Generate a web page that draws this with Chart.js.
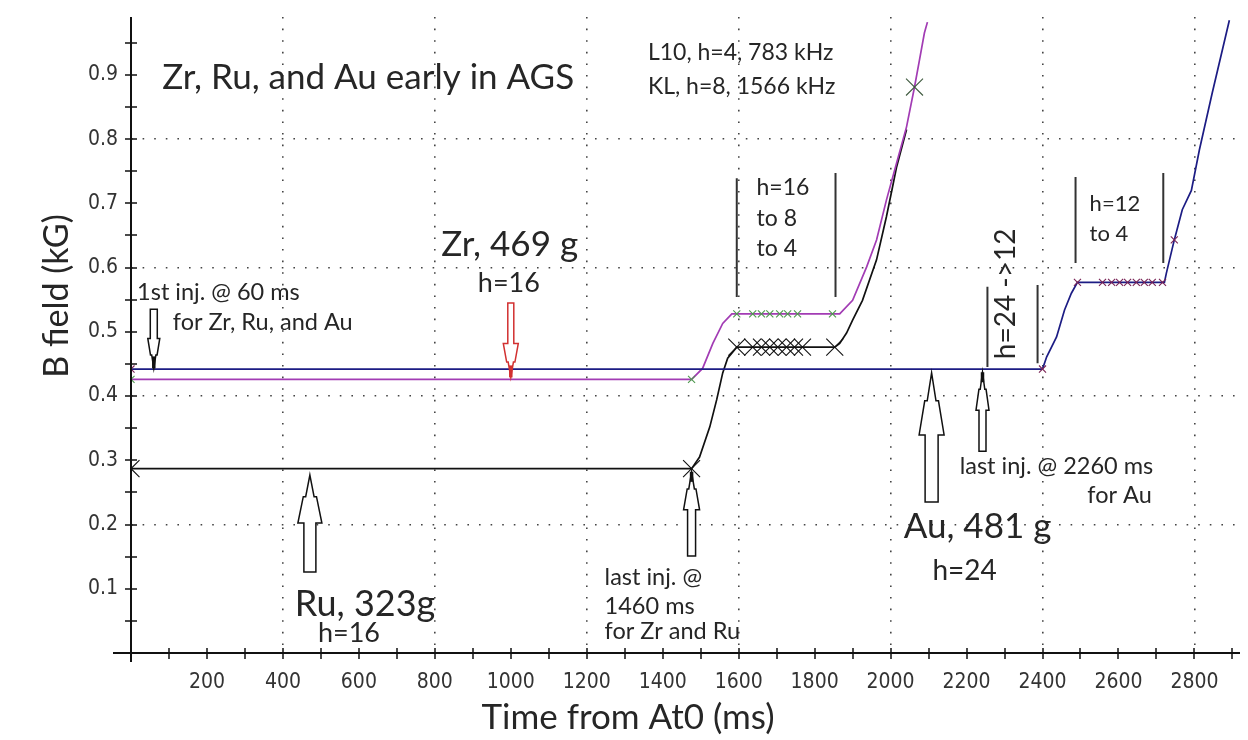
<!DOCTYPE html>
<html><head><meta charset="utf-8">
<script src="https://cdn.jsdelivr.net/npm/chart.js@4/dist/chart.umd.min.js"></script>
<style>html,body{margin:0;padding:0;background:#fff}#wrap{width:1248px;height:740px;position:relative}</style>
</head><body><div id="wrap"><canvas id="c" width="1248" height="740"></canvas></div>
<script>
// ---------- data (time in ms, B field in kG) ----------
const auTime  = [0, 2400, 2411, 2437, 2458, 2476, 2492, 2721, 2726, 2747, 2768, 2792, 2813, 2847, 2892];
const auField = [0.442, 0.442, 0.461, 0.492, 0.534, 0.560, 0.577, 0.577, 0.591, 0.643, 0.690, 0.720, 0.783, 0.872, 0.985];

const zrTime  = [0, 1476, 1505, 1532, 1558, 1582, 1595, 1866, 1900, 1937, 1963, 1989, 2016, 2042, 2063, 2076, 2089, 2097];
const zrField = [0.426, 0.426, 0.443, 0.482, 0.513, 0.528, 0.528, 0.528, 0.549, 0.601, 0.643, 0.705, 0.763, 0.819, 0.881, 0.923, 0.965, 0.982];

const ruTime  = [0, 1476, 1497, 1524, 1542, 1558, 1571, 1595, 1853, 1866, 1884, 1900, 1926, 1963, 1989, 2005, 2016, 2042];
const ruField = [0.287, 0.287, 0.305, 0.352, 0.394, 0.436, 0.459, 0.476, 0.476, 0.482, 0.498, 0.518, 0.549, 0.612, 0.679, 0.725, 0.757, 0.815];

const ruMarkTime  = [0, 1476, 1595, 1637, 1660, 1682, 1703, 1726, 1747, 1768, 1853];
const ruMarkField = [0.287, 0.287, 0.476, 0.476, 0.476, 0.476, 0.476, 0.476, 0.476, 0.476, 0.476];

const zrMarkTime  = [0, 1476, 1595, 1637, 1660, 1682, 1708, 1729, 1755, 1847];
const zrMarkField = [0.426, 0.426, 0.528, 0.528, 0.528, 0.528, 0.528, 0.528, 0.528, 0.528];
const zrBigMarkTime  = [2063];
const zrBigMarkField = [0.881];

const auMarkTime  = [0, 2400, 2492, 2558, 2582, 2603, 2624, 2647, 2668, 2689, 2716, 2747];
const auMarkField = [0.442, 0.442, 0.577, 0.577, 0.577, 0.577, 0.577, 0.577, 0.577, 0.577, 0.577, 0.643];

const xTitle = 'Time from At0 (ms)';
const yTitle = 'B field (kG)';

const zip = (xs, ys) => xs.map((x, i) => ({x: x, y: ys[i]}));

// ---------- annotations (data coordinates) ----------
const TXT = '#262626';
const FONT = 'Lato, "Open Sans", sans-serif';
const notes = [
  {text: 'Zr, Ru, and Au early in AGS', t: 82, v: 0.895, size: 35, align: 'left'},
  {text: 'L10, h=4, 783 kHz', t: 1361, v: 0.935, size: 23, align: 'left'},
  {text: 'KL, h=8, 1566 kHz', t: 1361, v: 0.882, size: 23, align: 'left'},
  {text: 'h=16', t: 1647, v: 0.725, size: 23, align: 'left'},
  {text: 'to 8', t: 1647, v: 0.677, size: 23, align: 'left'},
  {text: 'to 4', t: 1647, v: 0.629, size: 23, align: 'left'},
  {text: 'h=12', t: 2524, v: 0.699, size: 22, align: 'left'},
  {text: 'to 4', t: 2524, v: 0.652, size: 22, align: 'left'},
  {text: 'h=24 ->12', t: 2305, v: 0.559, size: 28, align: 'center', rot: true},
  {text: 'Zr, 469 g', t: 997, v: 0.635, size: 35, align: 'center'},
  {text: 'h=16', t: 995, v: 0.576, size: 27, align: 'center'},
  {text: '1st inj. @ 60 ms', t: 16, v: 0.562, size: 23.5, align: 'left'},
  {text: 'for Zr, Ru, and Au', t: 110, v: 0.515, size: 23.5, align: 'left'},
  {text: 'Ru, 323g', t: 616, v: 0.076, size: 36, align: 'center'},
  {text: 'h=16', t: 574, v: 0.030, size: 27, align: 'center'},
  {text: 'last inj. @', t: 1247, v: 0.117, size: 23.5, align: 'left'},
  {text: '1460 ms', t: 1247, v: 0.072, size: 23.5, align: 'left'},
  {text: 'for Zr and Ru', t: 1247, v: 0.033, size: 23.5, align: 'left'},
  {text: 'Au, 481 g', t: 2229, v: 0.196, size: 35, align: 'center'},
  {text: 'h=24', t: 2195, v: 0.128, size: 28, align: 'center'},
  {text: 'last inj. @ 2260 ms', t: 2182, v: 0.291, size: 23.5, align: 'left'},
  {text: 'for Au', t: 2518, v: 0.246, size: 23.5, align: 'left'}
];
const brackets = [
  {t: 1595, v1: 0.739, v2: 0.554}, {t: 1855, v1: 0.747, v2: 0.554},
  {t: 2487, v1: 0.741, v2: 0.607}, {t: 2718, v1: 0.747, v2: 0.607},
  {t: 2255, v1: 0.570, v2: 0.445}, {t: 2387, v1: 0.573, v2: 0.451}
];
const arrows = [
  {t: 60,   tip: 0.443, end: 0.535, head: 30, hw: 6,    sw: 3.5, color: '#111', thick: 12},
  {t: 1000, tip: 0.429, end: 0.545, head: 34, hw: 7.5,  sw: 3,   color: '#d23030', thick: 12},
  {t: 471,  tip: 0.277, end: 0.126, head: 48, hw: 12,   sw: 6,   color: '#111', thick: 0},
  {t: 1476, tip: 0.282, end: 0.151, head: 38, hw: 8,    sw: 4,   color: '#111', thick: 10},
  {t: 2108, tip: 0.436, end: 0.235, head: 62, hw: 12.5, sw: 6.5, color: '#111', thick: 0},
  {t: 2242, tip: 0.437, end: 0.314, head: 38, hw: 6.5,  sw: 3.5, color: '#111', thick: 10}
];

function blockArrow(ctx, cx, tipY, endY, a) {
  const s = tipY < endY ? 1 : -1;
  const baseY = tipY + s * a.head;
  const midY = tipY + s * a.head * 0.45;
  const pts = [[0, tipY], [a.hw * 0.35, midY], [a.hw * 0.55, midY], [a.hw, baseY], [a.sw, baseY], [a.sw, endY],
               [-a.sw, endY], [-a.sw, baseY], [-a.hw, baseY], [-a.hw * 0.55, midY], [-a.hw * 0.35, midY]];
  ctx.beginPath();
  pts.forEach((p, i) => i ? ctx.lineTo(cx + p[0], p[1]) : ctx.moveTo(cx + p[0], p[1]));
  ctx.closePath();
  ctx.fillStyle = '#fff';
  ctx.fill();
  ctx.lineWidth = 1.5;
  ctx.strokeStyle = a.color;
  ctx.stroke();
  if (a.thick) {
    ctx.beginPath();
    ctx.moveTo(cx, tipY);
    ctx.lineTo(cx, tipY + s * a.thick);
    ctx.lineWidth = 3.5;
    ctx.stroke();
  }
}

const annot = {
  id: 'annot',
  afterDatasetsDraw(chart) {
    const {ctx, chartArea: ca, scales: {x, y}} = chart;
    ctx.save();
    // axes with crossing tick marks
    ctx.strokeStyle = '#111';
    ctx.lineWidth = 2;
    ctx.beginPath();
    ctx.moveTo(113, ca.bottom); ctx.lineTo(ca.right, ca.bottom);
    ctx.moveTo(ca.left, ca.top); ctx.lineTo(ca.left, ca.bottom + 9);
    ctx.stroke();
    ctx.lineWidth = 1.5;
    ctx.beginPath();
    for (let t = 0; t <= 2900; t += 100) {
      const p = Math.round(x.getPixelForValue(t));
      ctx.moveTo(p, ca.bottom - 5); ctx.lineTo(p, ca.bottom + 6);
    }
    for (let k = 1; k <= 19; k++) {
      const p = Math.round(y.getPixelForValue(k * 0.05));
      ctx.moveTo(ca.left - 6, p); ctx.lineTo(ca.left + 6, p);
    }
    ctx.stroke();

    // bracket lines
    ctx.strokeStyle = '#333';
    ctx.lineWidth = 2;
    ctx.beginPath();
    brackets.forEach(b => {
      const p = x.getPixelForValue(b.t);
      ctx.moveTo(p, y.getPixelForValue(b.v1)); ctx.lineTo(p, y.getPixelForValue(b.v2));
    });
    ctx.stroke();

    // arrows
    arrows.forEach(a => blockArrow(ctx, x.getPixelForValue(a.t), y.getPixelForValue(a.tip), y.getPixelForValue(a.end), a));

    // texts
    ctx.fillStyle = TXT;
    ctx.textBaseline = 'middle';
    notes.forEach(n => {
      ctx.font = n.size + 'px ' + FONT;
      ctx.textAlign = n.align;
      const px = x.getPixelForValue(n.t), py = y.getPixelForValue(n.v);
      if (n.rot) {
        ctx.save(); ctx.translate(px, py); ctx.rotate(-Math.PI / 2);
        ctx.fillText(n.text, 0, 0); ctx.restore();
      } else {
        ctx.fillText(n.text, px, py);
      }
    });

    // axis titles
    ctx.font = '35px ' + FONT;
    ctx.textAlign = 'center';
    ctx.fillText(xTitle, 628, 718);
    ctx.save(); ctx.translate(57, 296); ctx.rotate(-Math.PI / 2);
    ctx.font = '34px ' + FONT;
    ctx.fillText(yTitle, 0, 0); ctx.restore();
    ctx.restore();
  }
};

const tickFont = {family: '"Liberation Sans Narrow", "DejaVu Sans Condensed", "Liberation Sans", sans-serif', size: 21};
const lineDs = (label, xs, ys, color) => ({label, data: zip(xs, ys), showLine: true, borderColor: color, borderWidth: 1.7,
  pointRadius: 0, tension: 0, fill: false});
const markDs = (label, xs, ys, color, r) => ({label, data: zip(xs, ys), showLine: false, pointStyle: 'crossRot',
  pointRadius: r, pointHoverRadius: r, borderColor: color, backgroundColor: color, pointBorderWidth: 1.1});

new Chart(document.getElementById('c'), {
  type: 'scatter',
  data: {
    datasets: [
      markDs('Au marks', auMarkTime, auMarkField, '#7a2456', 5),
      markDs('Zr marks', zrMarkTime, zrMarkField, '#4f9a4f', 5),
      markDs('Zr big mark', zrBigMarkTime, zrBigMarkField, '#3f5a3f', 12),
      markDs('Ru marks', ruMarkTime, ruMarkField, '#111', 12),
      lineDs('Au, 481 g', auTime, auField, '#1c1c84'),
      lineDs('Zr, 469 g', zrTime, zrField, '#a23cb4'),
      lineDs('Ru, 323g', ruTime, ruField, '#111')
    ]
  },
  options: {
    responsive: false, animation: false, devicePixelRatio: 1,
    layout: {autoPadding: false, padding: {top: 17, right: 8, left: 0, bottom: 0}},
    plugins: {legend: {display: false}, tooltip: {enabled: false}},
    scales: {
      x: {
        type: 'linear', min: 0, max: 2920,
        afterFit(s) { s.height = 87; s.paddingLeft = 0; s.paddingRight = 0; },
        ticks: {stepSize: 100, autoSkip: false, maxRotation: 0, padding: 17, font: tickFont, color: '#333',
          callback: v => { const r = Math.round(v); return (r > 0 && r % 200 === 0) ? String(r) : ''; }},
        grid: {drawTicks: false, lineWidth: 1.6,
          color: c => { const r = c.tick ? Math.round(c.tick.value) : 0; return (r > 0 && r % 400 === 0) ? '#444' : 'rgba(0,0,0,0)'; }},
        border: {display: false, dash: [1.6, 10]}
      },
      y: {
        type: 'linear', min: 0, max: 0.99,
        afterFit(s) { s.width = 131; s.paddingTop = 0; s.paddingBottom = 0; },
        ticks: {stepSize: 0.05, autoSkip: false, padding: 13, font: tickFont, color: '#333',
          callback: v => { const k = Math.round(v * 100); return (k > 0 && k < 100 && k % 10 === 0) ? (k / 100).toFixed(1) : ''; }},
        grid: {drawTicks: false, lineWidth: 1.6,
          color: c => { const k = c.tick ? Math.round(c.tick.value * 100) : 0; return (k > 0 && k < 100 && k % 20 === 0) ? '#444' : 'rgba(0,0,0,0)'; }},
        border: {display: false, dash: [1.6, 10]}
      }
    }
  },
  plugins: [annot]
});
</script>
</body></html>
